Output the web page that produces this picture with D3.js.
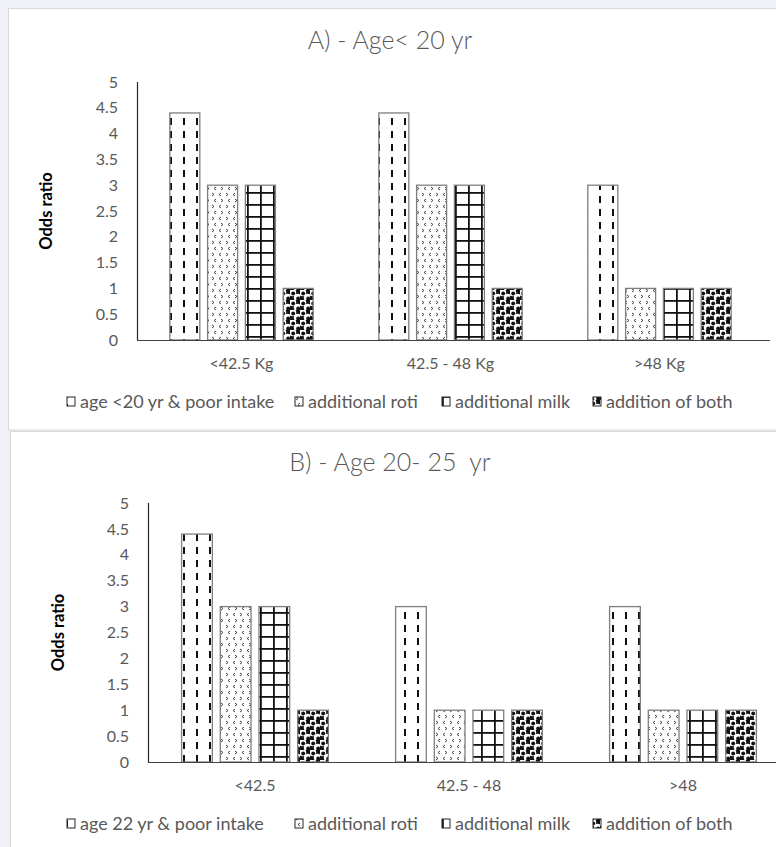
<!DOCTYPE html>
<html>
<head>
<meta charset="utf-8">
<script src="https://cdn.jsdelivr.net/npm/d3@7"></script>
<style>
  html, body { margin: 0; padding: 0; background: #eff1f7; }
  svg { display: block; }
  text { font-family: Lato, "Open Sans", sans-serif; }
</style>
</head>
<body>
<svg id="chart" width="776" height="847"></svg>
<script>
// ---------- DATA ----------
const titleA = "A) - Age< 20 yr";
const titleB = "B) - Age 20- 25  yr";
const categoriesA = ["<42.5 Kg", "42.5 - 48 Kg", ">48 Kg"];
const categoriesB = ["<42.5", "42.5 - 48", ">48"];
const seriesNamesA = ["age <20 yr & poor intake", "additional roti", "additional milk", "addition of both"];
const seriesNamesB = ["age 22 yr & poor intake", "additional roti", "additional milk", "addition of both"];
const poorIntakeA = [4.4, 4.4, 3];
const rotiA = [3, 3, 1];
const milkA = [3, 3, 1];
const bothA = [1, 1, 1];
const poorIntakeB = [4.4, 3, 3];
const rotiB = [3, 1, 1];
const milkB = [3, 1, 1];
const bothB = [1, 1, 1];
const yTickValues = [0, 0.5, 1, 1.5, 2, 2.5, 3, 3.5, 4, 4.5, 5];
const yLabel = "Odds ratio";

// ---------- SETUP ----------
const svg = d3.select("#chart");
const defs = svg.append("defs");

// pattern 0: dashed vertical
const p0 = defs.append("pattern").attr("id", "pat0").attr("patternUnits", "userSpaceOnUse")
  .attr("width", 13).attr("height", 13);
p0.append("rect").attr("width", 13).attr("height", 13).attr("fill", "#fff");
p0.append("rect").attr("x", 1).attr("y", 1).attr("width", 2).attr("height", 7).attr("fill", "#111");

// pattern 1: small chevrons
const p1 = defs.append("pattern").attr("id", "pat1").attr("patternUnits", "userSpaceOnUse")
  .attr("width", 14).attr("height", 12);
p1.append("rect").attr("width", 14).attr("height", 12).attr("fill", "#fff");
const chev = ["M2,1 L4,2.5 L2,4", "M11,1 L9,2.5 L11,4", "M6,7 L4,8.5 L6,10", "M11,7 L13,8.5 L11,10"];
chev.forEach(d => p1.append("path").attr("d", d).attr("fill", "none")
  .attr("stroke", "#333").attr("stroke-width", 0.9));

// pattern 2: grid
const p2 = defs.append("pattern").attr("id", "pat2").attr("patternUnits", "userSpaceOnUse")
  .attr("width", 13).attr("height", 12);
p2.append("rect").attr("width", 13).attr("height", 12).attr("fill", "#fff");
p2.append("rect").attr("x", 0).attr("y", 0).attr("width", 13).attr("height", 1.8).attr("fill", "#111");
p2.append("rect").attr("x", 0).attr("y", 0).attr("width", 1.8).attr("height", 12).attr("fill", "#111");

// pattern 3: spheres
const p3 = defs.append("pattern").attr("id", "pat3").attr("patternUnits", "userSpaceOnUse")
  .attr("width", 10).attr("height", 10);
p3.append("rect").attr("width", 10).attr("height", 10).attr("fill", "#111");
[[2.5, 2.5], [7.5, 7.5]].forEach(([cx, cy]) => {
  p3.append("circle").attr("cx", cx).attr("cy", cy).attr("r", 3.7).attr("fill", "#fff");
  p3.append("circle").attr("cx", cx + 0.7).attr("cy", cy + 1.0).attr("r", 2.0).attr("fill", "#111");
});

const patternIds = ["pat0", "pat1", "pat2", "pat3"];

// background panels
svg.append("rect").attr("x", 8.5).attr("y", 8.5).attr("width", 800).attr("height", 421.5)
  .attr("fill", "#fff").attr("stroke", "#d9d9d9");
svg.append("rect").attr("x", 10.5).attr("y", 431.5).attr("width", 800).attr("height", 500)
  .attr("fill", "#fff").attr("stroke", "#d9d9d9");

function drawPanel(cfg) {
  const g = svg.append("g");
  const y = d3.scaleLinear().domain([0, 5]).range([cfg.y0, cfg.y5]);
  const x0 = d3.scaleBand().domain(cfg.categories).range([cfg.xLeft, cfg.xLeft + 3 * cfg.band])
    .paddingInner(0).paddingOuter(0);
  const groupW = x0.bandwidth() * 0.686;
  const x1 = d3.scaleBand().domain(d3.range(cfg.series.length)).range([0, groupW])
    .paddingInner(0.206).paddingOuter(0);

  // title
  g.append("text").attr("x", cfg.titleX).attr("y", cfg.titleY).attr("text-anchor", "middle")
    .attr("font-size", 25).attr("font-weight", 300).attr("fill", "#595959")
    .attr("xml:space", "preserve").style("white-space", "pre").text(cfg.title);

  // y axis labels
  const yAxis = d3.axisLeft(y).tickValues(yTickValues).tickSize(0).tickPadding(19)
    .tickFormat(d3.format("~g"));
  const ya = g.append("g").attr("transform", `translate(${cfg.xLeft},0)`).call(yAxis);
  ya.select(".domain").remove();
  ya.selectAll("text").attr("font-size", 16).attr("fill", "#595959")
    .style("font-family", "Lato, 'Open Sans', sans-serif");

  // y axis title
  g.append("text").attr("transform", `translate(${cfg.yLabelX},${(cfg.y0 + cfg.y5) / 2}) rotate(-90)`)
    .attr("text-anchor", "middle").attr("dy", "0.35em").attr("font-size", 16.5)
    .attr("font-weight", "bold").attr("fill", "#000").text(yLabel);

  // bars
  cfg.categories.forEach((cat, ci) => {
    const gx = x0(cat) + (x0.bandwidth() - groupW) / 2;
    cfg.series.forEach((vals, si) => {
      const v = vals[ci];
      g.append("rect")
        .attr("x", gx + x1(si)).attr("y", y(v))
        .attr("width", x1.bandwidth()).attr("height", y(0) - y(v))
        .attr("fill", `url(#${patternIds[si]})`)
        .attr("stroke", "#7f7f7f").attr("stroke-width", 1.3);
    });
    g.append("text").attr("x", x0(cat) + x0.bandwidth() / 2).attr("y", cfg.catY)
      .attr("text-anchor", "middle").attr("dy", "0.35em")
      .attr("font-size", 16).attr("fill", "#595959").text(cat);
  });

  // axis lines
  g.append("line").attr("x1", cfg.xLeft + 0.5).attr("x2", cfg.xLeft + 0.5)
    .attr("y1", y(5)).attr("y2", y(0)).attr("stroke", "#262626").attr("stroke-width", 1.2);
  g.append("line").attr("x1", cfg.xLeft).attr("x2", cfg.xRight)
    .attr("y1", y(0) + 0.5).attr("y2", y(0) + 0.5).attr("stroke", "#404040").attr("stroke-width", 1.2);

  // legend
  cfg.series.forEach((_, si) => {
    const lx = cfg.legendX[si];
    g.append("rect").attr("x", lx).attr("y", cfg.legendY - 5).attr("width", 8).attr("height", 9)
      .attr("fill", `url(#${patternIds[si]})`).attr("stroke", "#262626").attr("stroke-width", 1);
    g.append("text").attr("x", lx + 13).attr("y", cfg.legendY).attr("dy", "0.35em")
      .attr("font-size", 18).attr("fill", "#595959").text(cfg.seriesNames[si]);
  });
}

drawPanel({
  title: titleA, titleX: 390, titleY: 49,
  categories: categoriesA, seriesNames: seriesNamesA,
  series: [poorIntakeA, rotiA, milkA, bothA],
  xLeft: 137, band: 209, xRight: 770,
  y0: 340, y5: 82, catY: 363, yLabelX: 46,
  legendY: 402, legendX: [67, 295, 442, 593]
});

drawPanel({
  title: titleB, titleX: 390, titleY: 471,
  categories: categoriesB, seriesNames: seriesNamesB,
  series: [poorIntakeB, rotiB, milkB, bothB],
  xLeft: 148, band: 214, xRight: 776,
  y0: 762, y5: 503, catY: 785, yLabelX: 58,
  legendY: 824, legendX: [67, 295, 442, 593]
});
</script>
</body>
</html>
